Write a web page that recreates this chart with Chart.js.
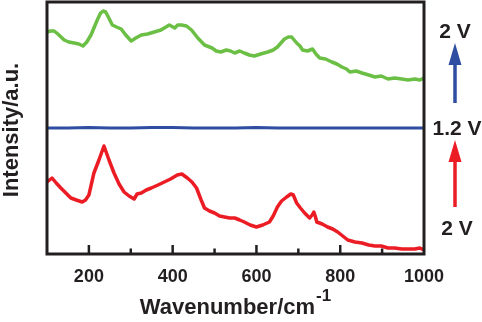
<!DOCTYPE html>
<html>
<head>
<meta charset="utf-8">
<script src="https://cdn.jsdelivr.net/npm/chart.js@4/dist/chart.umd.min.js"></script>
<style>
  html, body { margin: 0; padding: 0; background: #fff; }
  #wrap { width: 482px; height: 322px; }
</style>
</head>
<body>
<div id="wrap"><canvas id="ramanChart" width="482" height="322"></canvas></div>
<script>
// spectra (wavenumber in cm-1, intensity in a.u.)
const greenX = [100, 108, 117, 126, 141, 152, 165, 176, 186, 195, 205, 220, 228, 234, 240, 244, 256, 266, 277, 288, 301, 312, 325, 340, 356, 372, 392, 405, 412, 421, 433, 445, 460, 476, 494, 504, 515, 528, 538, 548, 560, 571, 583, 595, 610, 627, 640, 650, 667, 676, 684, 696, 704, 710, 722, 734, 742, 751, 765, 780, 792, 804, 815, 823, 838, 852, 868, 883, 898, 914, 930, 947, 962, 978, 990, 1000];
const greenY = [222, 223, 223, 220, 214, 212, 211, 210, 208, 212, 219, 234, 241, 243, 242, 239, 229, 227, 225, 219, 213, 216, 219, 220, 222, 224, 229, 226, 229, 229, 228, 224, 216, 209, 206, 203, 202, 204, 203, 201, 203, 201, 199, 198, 200, 202, 204, 207, 215, 217, 217, 211, 208, 204, 203, 205, 200, 196, 195, 192, 190, 187, 185, 182, 183, 181, 179, 177, 178, 175, 176, 175, 174, 175, 174, 176];

const blueX = [100, 150, 200, 250, 300, 350, 400, 450, 500, 550, 600, 650, 700, 750, 800, 850, 900, 950, 1000];
const blueY = [126, 126, 126.5, 126, 126, 126.5, 126.5, 126, 126, 126, 126.5, 126, 126, 126, 126, 126, 126, 126, 126];

const redX = [100, 112, 122, 133, 145, 157, 170, 184, 192, 200, 212, 224, 230, 236, 242, 248, 260, 272, 284, 296, 308, 315, 325, 337, 349, 365, 380, 395, 411, 422, 435, 446, 457, 468, 476, 488, 500, 512, 524, 536, 548, 560, 571, 585, 600, 615, 631, 640, 650, 660, 672, 682, 688, 696, 705, 715, 727, 733, 737, 741, 744, 757, 770, 782, 794, 806, 818, 835, 852, 868, 883, 898, 914, 930, 947, 962, 978, 990, 1000];
const redY = [72, 76, 71, 66, 61, 56, 54, 52, 54, 59, 81, 94, 101, 108, 101, 94, 81, 70, 62, 58, 55, 60, 61, 64, 66, 69, 72, 75, 79, 80, 76, 72, 66, 54, 46, 43, 41, 38, 37, 36, 36, 34, 32, 29, 27, 29, 32, 38, 47, 53, 57, 60, 59, 51, 46, 41, 36, 39, 42, 37, 32, 30, 27, 25, 22, 18, 14, 12, 11, 9, 8, 8, 6, 6, 5, 5, 5, 6, 4];

const xTicks = [100, 200, 300, 400, 500, 600, 700, 800, 900, 1000];
const xLabels = [200, 400, 600, 800, 1000];

const GREEN = "#6cbf45";
const BLUE = "#2f4ea1";
const RED = "#ec1c24";
const INK = "#231f20";
const FONT = "'Liberation Sans', Arial, sans-serif";

function toPoints(xs, ys) {
  return xs.map((x, i) => ({ x: x, y: ys[i] }));
}

function arrow(ctx, x, yBottom, yTip, color) {
  ctx.save();
  ctx.strokeStyle = color;
  ctx.fillStyle = color;
  ctx.lineWidth = 3.5;
  ctx.beginPath();
  ctx.moveTo(x, yBottom);
  ctx.lineTo(x, yTip + 18);
  ctx.stroke();
  ctx.beginPath();
  ctx.moveTo(x, yTip);
  ctx.lineTo(x - 6.5, yTip + 22);
  ctx.lineTo(x + 6.5, yTip + 22);
  ctx.closePath();
  ctx.fill();
  ctx.restore();
}

const decorations = {
  id: "decorations",
  afterDatasetsDraw(chart) {
    const ctx = chart.ctx;
    const area = chart.chartArea;
    const xs = chart.scales.x;

    ctx.save();
    // frame
    ctx.strokeStyle = INK;
    ctx.lineWidth = 3;
    ctx.strokeRect(area.left, area.top, area.right - area.left, area.bottom - area.top);

    // inward ticks on bottom axis
    ctx.lineWidth = 2.5;
    xTicks.forEach(v => {
      if (v === 100 || v === 1000) return;
      const px = xs.getPixelForValue(v);
      const len = xLabels.includes(v) ? 9 : 5.5;
      ctx.beginPath();
      ctx.moveTo(px, area.bottom);
      ctx.lineTo(px, area.bottom - len);
      ctx.stroke();
    });

    ctx.fillStyle = INK;

    // y title
    ctx.save();
    ctx.translate(12, (area.top + area.bottom) / 2 + 2);
    ctx.rotate(-Math.PI / 2);
    ctx.font = "bold 22px " + FONT;
    ctx.textAlign = "center";
    ctx.textBaseline = "middle";
    ctx.fillText("Intensity/a.u.", 0, 0);
    ctx.restore();

    // x title with superscript
    ctx.font = "bold 22px " + FONT;
    const main = "Wavenumber/cm";
    const wMain = ctx.measureText(main).width;
    ctx.font = "bold 17px " + FONT;
    const sup = "-1";
    const wSup = ctx.measureText(sup).width;
    const cx = (area.left + area.right) / 2;
    const startX = cx - (wMain + wSup + 1) / 2;
    ctx.textAlign = "left";
    ctx.textBaseline = "alphabetic";
    ctx.font = "bold 22px " + FONT;
    ctx.fillText(main, startX, 314);
    ctx.font = "bold 17px " + FONT;
    ctx.fillText(sup, startX + wMain + 1, 301);

    // right side annotations
    ctx.font = "bold 21px " + FONT;
    ctx.textAlign = "center";
    ctx.textBaseline = "middle";
    ctx.fillText("2 V", 455, 32);
    ctx.fillText("1.2 V", 457, 129);
    ctx.fillText("2 V", 457, 229);
    ctx.restore();

    arrow(ctx, 455, 103, 43, BLUE);
    arrow(ctx, 455, 207, 140, RED);
  }
};

new Chart(document.getElementById("ramanChart").getContext("2d"), {
  type: "line",
  data: {
    datasets: [
      { label: "2 V (after)", data: toPoints(greenX, greenY), borderColor: GREEN, borderWidth: 3.5 },
      { label: "1.2 V", data: toPoints(blueX, blueY), borderColor: BLUE, borderWidth: 3 },
      { label: "2 V", data: toPoints(redX, redY), borderColor: RED, borderWidth: 3.5 }
    ]
  },
  options: {
    responsive: false,
    animation: false,
    events: [],
    layout: { padding: { left: 0, top: 2, right: 58, bottom: 0 } },
    elements: { point: { radius: 0 }, line: { tension: 0, borderJoinStyle: "round", borderCapStyle: "round" } },
    plugins: { legend: { display: false }, tooltip: { enabled: false } },
    scales: {
      x: {
        type: "linear",
        min: 100,
        max: 1000,
        afterFit: s => { s.height = 68; },
        afterBuildTicks: s => { s.ticks = xTicks.map(v => ({ value: v })); },
        grid: { display: false },
        border: { display: false },
        ticks: {
          autoSkip: false,
          maxRotation: 0,
          padding: 4,
          color: INK,
          font: { family: FONT, size: 18, weight: "bold" },
          callback: v => (xLabels.includes(v) ? String(v) : "")
        }
      },
      y: {
        min: 0,
        max: 252,
        afterFit: s => { s.width = 47; },
        grid: { display: false },
        border: { display: false },
        ticks: { display: false }
      }
    }
  },
  plugins: [decorations]
});
</script>
</body>
</html>
